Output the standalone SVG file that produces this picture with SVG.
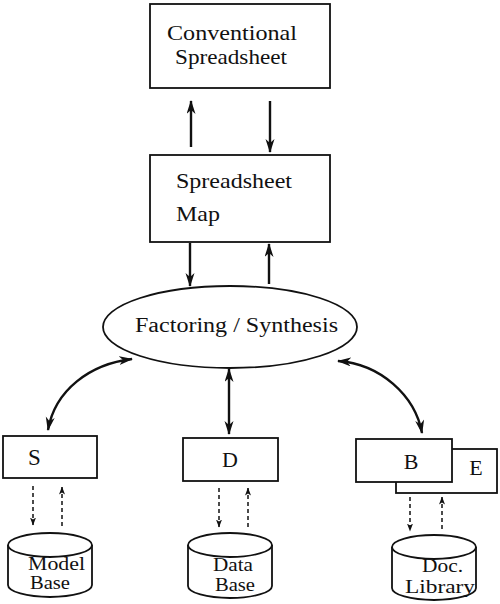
<svg xmlns="http://www.w3.org/2000/svg" width="500" height="604" viewBox="0 0 500 604">
<defs>
<style>
.box{fill:#fff;stroke:#111;stroke-width:1.8}
.t{fill:#111;font-family:Liberation Serif, Times New Roman, Times, DejaVu Serif, serif}
.a{fill:none;stroke:#111;stroke-width:2.4}
.d{fill:none;stroke:#111;stroke-width:1.5;stroke-dasharray:4 3}
</style>
<marker id="ah" markerUnits="userSpaceOnUse" markerWidth="14" markerHeight="10" refX="13" refY="4.5" orient="auto-start-reverse">
<path d="M0,0 L14,4.5 L0,9 L4,4.5 z" fill="#111"/>
</marker>
<marker id="dh" markerUnits="userSpaceOnUse" markerWidth="8" markerHeight="6" refX="7.5" refY="3" orient="auto-start-reverse">
<path d="M0,0 L8,3 L0,6 L2,3 z" fill="#111"/>
</marker>
</defs>

<g id="connectors">
<line class="a" x1="191" y1="147" x2="191" y2="101" marker-end="url(#ah)"/>
<line class="a" x1="270" y1="101" x2="270" y2="152" marker-end="url(#ah)"/>
<line class="a" x1="190" y1="243" x2="190" y2="286" marker-end="url(#ah)"/>
<line class="a" x1="269" y1="284" x2="269" y2="244" marker-end="url(#ah)"/>
<line class="a" x1="229" y1="369" x2="229" y2="434" marker-start="url(#ah)" marker-end="url(#ah)"/>
<path class="a" d="M48,430 C55,390 90,364 132,359" marker-start="url(#ah)" marker-end="url(#ah)"/>
<path class="a" d="M338,361 C380,364 415,395 422,433" marker-start="url(#ah)" marker-end="url(#ah)"/>
<line class="d" x1="33" y1="486" x2="33" y2="525" marker-end="url(#dh)"/>
<line class="d" x1="62" y1="526" x2="62" y2="487" marker-end="url(#dh)"/>
<line class="d" x1="219" y1="488" x2="219" y2="527" marker-end="url(#dh)"/>
<line class="d" x1="248" y1="527" x2="248" y2="488" marker-end="url(#dh)"/>
<line class="d" x1="410" y1="497" x2="410" y2="531" marker-end="url(#dh)"/>
<line class="d" x1="442" y1="529" x2="442" y2="497" marker-end="url(#dh)"/>
</g>

<g id="conventional">
<rect class="box" x="150" y="4" width="180" height="84"/>
<text class="t" x="232" y="40" font-size="21" text-anchor="middle" textLength="130" lengthAdjust="spacingAndGlyphs">Conventional</text>
<text class="t" x="231" y="64" font-size="21" text-anchor="middle" textLength="112" lengthAdjust="spacingAndGlyphs">Spreadsheet</text>
</g>

<g id="map">
<rect class="box" x="150" y="155" width="180" height="87"/>
<text class="t" x="176" y="188" font-size="21" textLength="116" lengthAdjust="spacingAndGlyphs">Spreadsheet</text>
<text class="t" x="176" y="221" font-size="21" textLength="44" lengthAdjust="spacingAndGlyphs">Map</text>
</g>

<g id="factoring">
<ellipse class="box" cx="230" cy="327" rx="127" ry="41"/>
<text class="t" x="135" y="332" font-size="20" textLength="203" lengthAdjust="spacingAndGlyphs">Factoring / Synthesis</text>
</g>

<g id="S">
<rect class="box" x="3" y="436" width="94" height="42"/>
<text class="t" x="28" y="465" font-size="23">S</text>
</g>

<g id="D">
<rect class="box" x="183" y="438" width="95" height="43"/>
<text class="t" x="230" y="467" font-size="22" text-anchor="middle">D</text>
</g>

<g id="E">
<rect class="box" x="396" y="449" width="101" height="44"/>
<text class="t" x="476" y="475" font-size="22" text-anchor="middle">E</text>
</g>

<g id="B">
<rect class="box" x="356" y="439" width="96" height="43"/>
<text class="t" x="411" y="469" font-size="22" text-anchor="middle">B</text>
</g>

<g id="modelbase">
<path class="box" d="M8,545 A42,12 0 0 1 92,545 L92,585 A42,12 0 0 1 8,585 Z"/>
<path class="box" fill="none" d="M8,545 A42,12 0 0 0 92,545"/>
<text class="t" x="28" y="570" font-size="19" textLength="57" lengthAdjust="spacingAndGlyphs">Model</text>
<text class="t" x="30" y="589" font-size="19" textLength="40" lengthAdjust="spacingAndGlyphs">Base</text>
</g>

<g id="database">
<path class="box" d="M188,545 A42,12 0 0 1 272,545 L272,586 A42,12 0 0 1 188,586 Z"/>
<path class="box" fill="none" d="M188,545 A42,12 0 0 0 272,545"/>
<text class="t" x="213" y="571" font-size="19" textLength="40" lengthAdjust="spacingAndGlyphs">Data</text>
<text class="t" x="215" y="591" font-size="19" textLength="40" lengthAdjust="spacingAndGlyphs">Base</text>
</g>

<g id="doclibrary">
<path class="box" d="M392,547 A42,12 0 0 1 476,547 L476,588 A42,12 0 0 1 392,588 Z"/>
<path class="box" fill="none" d="M392,547 A42,12 0 0 0 476,547"/>
<text class="t" x="422" y="572" font-size="19" textLength="41" lengthAdjust="spacingAndGlyphs">Doc.</text>
<text class="t" x="405" y="593" font-size="19" textLength="70" lengthAdjust="spacingAndGlyphs">Library</text>
</g>
</svg>
